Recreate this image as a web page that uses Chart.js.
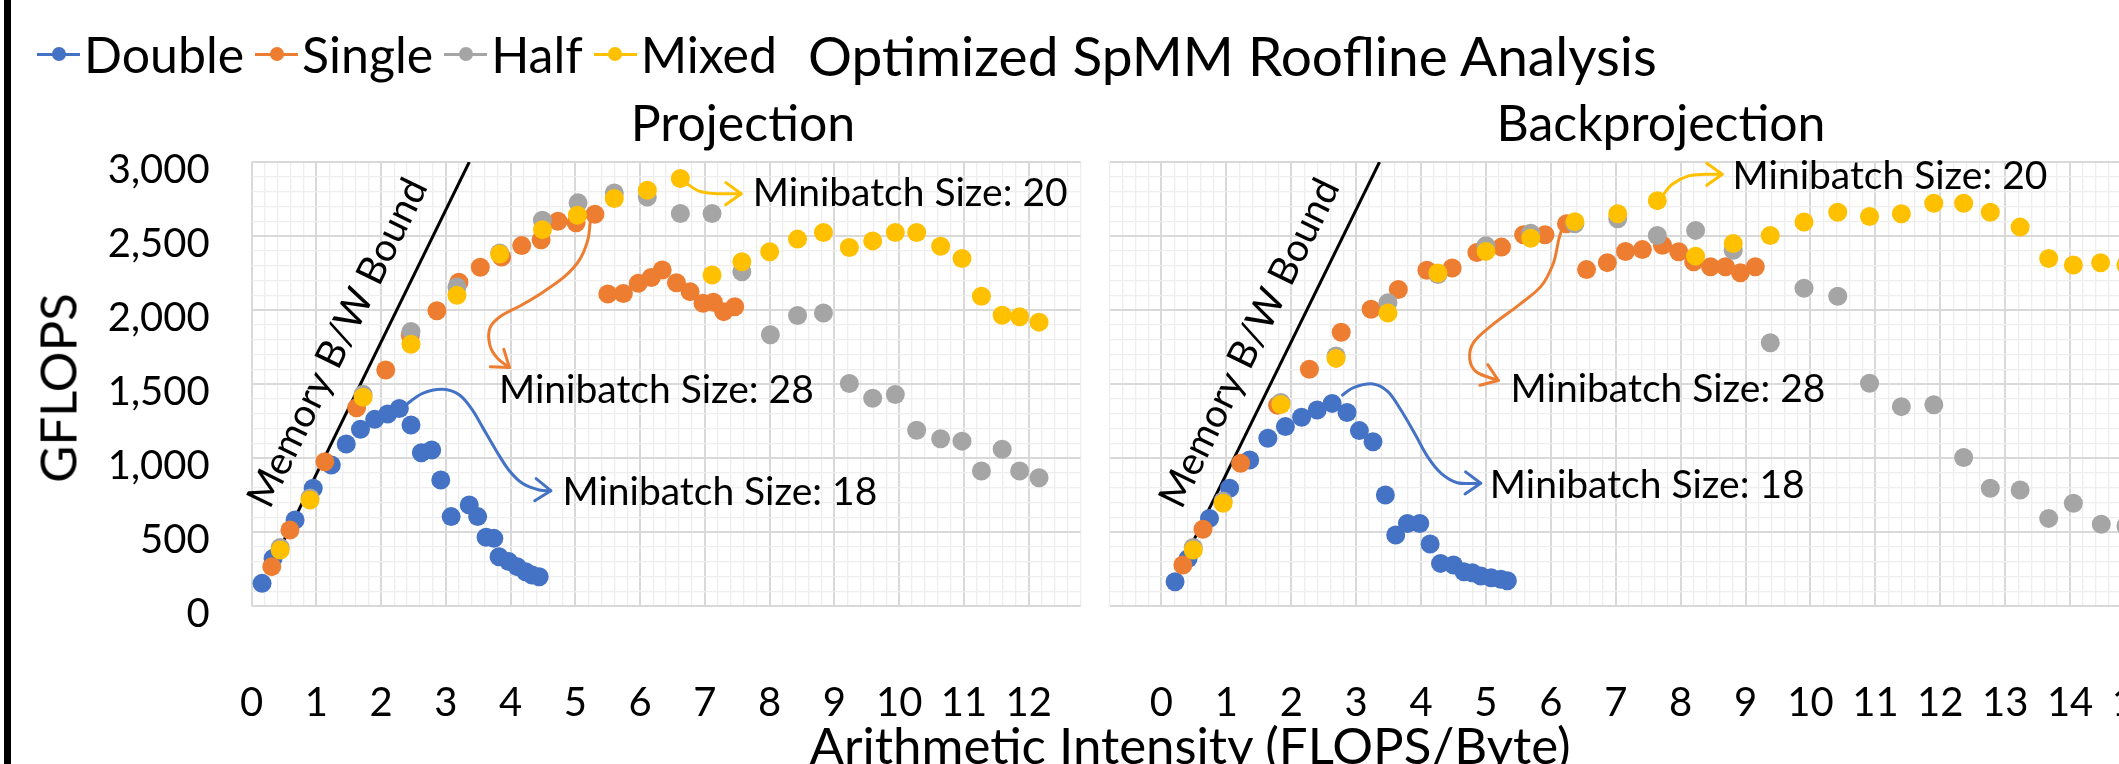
<!DOCTYPE html>
<html>
<head>
<meta charset="utf-8">
<script src="https://cdn.jsdelivr.net/npm/chart.js@4/dist/chart.umd.min.js"></script>
<style>
html,body{margin:0;padding:0;background:#fff;overflow:hidden;}
#wrap{position:relative;width:2119px;height:764px;overflow:hidden;background:#fff;font-family:Lato,"Open Sans",sans-serif;color:#000;}
canvas{position:absolute;top:0;}
#c1{left:0;}
#c2{left:1100px;}
#bar{position:absolute;left:4px;top:0;width:7px;height:764px;background:#000;}
.txt{position:absolute;white-space:nowrap;line-height:1;transform:translate(-50%,-50%);}
#legend{position:absolute;left:37px;top:29px;display:flex;align-items:center;font-size:50px;line-height:1;white-space:nowrap;}
#legend .item{display:flex;align-items:center;margin-right:11px;}
#legend .mk{display:inline-block;width:43px;height:14px;position:relative;margin-right:4px;}
#legend .mk::before{content:"";position:absolute;left:0;right:0;top:5.5px;height:3px;background:var(--c);}
#legend .mk::after{content:"";position:absolute;left:14.5px;top:0;width:14px;height:14px;border-radius:50%;background:var(--c);}
#ttl{position:absolute;left:808px;top:28px;font-size:55px;line-height:1;white-space:nowrap;}
#sub1{left:743px;top:122px;font-size:50px;}
#sub2{left:1661px;top:122px;font-size:50px;}
#ytitle{left:57px;top:388px;font-size:51px;transform:translate(-50%,-50%) rotate(-90deg);}
#xtitle{left:1190px;top:744px;font-size:51px;}
</style>
</head>
<body>
<div id="wrap">
  <canvas id="c1" width="1100" height="764"></canvas>
  <canvas id="c2" width="1088" height="764"></canvas>
  <div id="bar"></div>
  <div id="legend"></div>
  <div id="ttl"></div>
  <div class="txt" id="sub1">Projection</div>
  <div class="txt" id="sub2">Backprojection</div>
  <div class="txt" id="ytitle">GFLOPS</div>
  <div class="txt" id="xtitle">Arithmetic Intensity (FLOPS/Byte)</div>
</div>
<script>
// ---------------- DATA ----------------
const seriesNames = ['Double', 'Single', 'Half', 'Mixed'];
const chartTitle = 'Optimized SpMM Roofline Analysis';

// Projection panel
const projDoubleX = [0.16,0.33,0.67,0.95,1.23,1.46,1.68,1.90,2.10,2.28,2.46,2.62,2.78,2.92,3.08,3.36,3.49,3.62,3.74,3.82,3.97,4.10,4.23,4.33,4.44];
const projDoubleY = [153,322,581,795,953,1094,1194,1261,1297,1335,1223,1036,1054,851,604,682,604,464,457,333,300,266,232,209,198];
const projSingleX = [0.31,0.59,1.13,1.62,2.07,2.45,2.86,3.20,3.53,3.86,4.17,4.47,4.73,5.01,5.30,5.50,5.74,5.97,6.17,6.34,6.56,6.77,6.97,7.13,7.29,7.46];
const projSingleY = [266,513,975,1340,1595,1830,1995,2188,2289,2358,2435,2475,2600,2589,2647,2108,2112,2180,2220,2270,2184,2124,2045,2052,1989,2022];
const projHalfX = [0.44,0.90,1.72,2.46,3.17,3.83,4.49,5.04,5.60,6.11,6.62,7.11,7.57,8.01,8.43,8.83,9.23,9.59,9.94,10.27,10.64,10.97,11.27,11.59,11.86,12.16];
const projHalfY = [395,730,1430,1855,2155,2385,2607,2724,2791,2764,2652,2652,2258,1833,1963,1980,1503,1404,1429,1187,1130,1114,912,1059,912,867];
const projMixedX = [0.44,0.90,1.72,2.46,3.17,3.83,4.49,5.03,5.60,6.11,6.62,7.11,7.57,8.00,8.43,8.83,9.23,9.59,9.94,10.27,10.64,10.97,11.27,11.59,11.86,12.16];
const projMixedY = [378,716,1410,1768,2099,2379,2543,2640,2753,2809,2888,2236,2326,2393,2479,2524,2422,2467,2524,2524,2431,2348,2093,1965,1955,1918];

// Backprojection panel
const bpDoubleX = [0.21,0.41,0.74,1.05,1.36,1.64,1.91,2.16,2.40,2.63,2.86,3.05,3.26,3.45,3.61,3.79,3.98,4.14,4.30,4.50,4.66,4.79,4.92,5.08,5.23,5.33];
const bpDoubleY = [164,320,592,795,986,1133,1212,1275,1324,1369,1308,1185,1110,750,480,558,558,419,288,277,232,225,203,191,180,171];
const bpSingleX = [0.33,0.64,1.22,1.79,2.28,2.77,3.23,3.65,4.09,4.48,4.86,5.24,5.58,5.91,6.24,6.55,6.87,7.15,7.41,7.72,7.97,8.20,8.46,8.69,8.92,9.15];
const bpSingleY = [277,518,964,1356,1600,1850,2005,2139,2268,2284,2389,2425,2508,2508,2582,2273,2320,2395,2408,2438,2393,2326,2292,2292,2252,2292];
const bpHalfX = [0.49,0.95,1.84,2.69,3.49,4.26,5.00,5.69,6.37,7.03,7.64,8.23,8.81,9.38,9.90,10.42,10.91,11.40,11.90,12.36,12.77,13.23,13.67,14.05,14.48,14.86];
const bpHalfY = [395,710,1375,1690,2049,2240,2434,2519,2582,2616,2504,2538,2404,1779,2147,2093,1505,1347,1360,1004,795,784,592,694,552,541];
const bpMixedX = [0.49,0.95,1.84,2.69,3.49,4.26,5.00,5.69,6.37,7.03,7.64,8.23,8.81,9.38,9.90,10.42,10.91,11.40,11.90,12.36,12.77,13.23,13.67,14.05,14.47,14.86];
const bpMixedY = [378,694,1362,1673,1980,2250,2396,2485,2597,2650,2739,2364,2449,2504,2594,2661,2632,2650,2721,2721,2661,2560,2348,2304,2319,2304];

// Memory bandwidth roof (same in both panels)
const boundX = [0.38, 3.36];
const boundY = [339, 3000];

// Tick labels
const projXTicks = [0,1,2,3,4,5,6,7,8,9,10,11,12];
const bpXTicks = [0,1,2,3,4,5,6,7,8,9,10,11,12,13,14,15];
const yTicks = [0,500,1000,1500,2000,2500,3000];

// Annotation texts
const boundLabel = 'Memory B/W Bound';
const mbText20 = 'Minibatch Size: 20';
const mbText28 = 'Minibatch Size: 28';
const mbText18 = 'Minibatch Size: 18';

// ---------------- STYLE ----------------
const seriesColors = ['#4472C4', '#ED7D31', '#A5A5A5', '#FFC000'];
const FONT = 'Lato';
const TICK_SIZE = 40;
const ANN_SIZE = 39;

// annotation geometry, in data units of each panel
const projAnn = {
  texts: [
    {x: 7.74, y: 2785, t: mbText20},
    {x: 3.82, y: 1459, t: mbText28},
    {x: 4.80, y: 765, t: mbText18}
  ],
  arrows: [
    {c: 3, pts: [[6.71,2858],[6.90,2805],[7.14,2787],[7.56,2785]]},
    {c: 1, pts: [[5.23,2607],[5.19,2472],[5.06,2337],[4.83,2225],[4.51,2124],[4.17,2034],[3.85,1960],[3.68,1880],[3.68,1760],[3.80,1672],[3.98,1612]]},
    {c: 0, pts: [[2.41,1369],[2.64,1437],[2.95,1464],[3.21,1426],[3.41,1324],[3.56,1212],[3.77,1054],[3.97,919],[4.18,829],[4.44,784],[4.62,779]]}
  ],
  boundText: {x: 1.33, y: 1778}
};
const bpAnn = {
  texts: [
    {x: 8.80, y: 2900, t: mbText20},
    {x: 5.38, y: 1462, t: mbText28},
    {x: 5.06, y: 818, t: mbText18}
  ],
  arrows: [
    {c: 3, pts: [[7.74,2783],[7.87,2850],[8.12,2906],[8.38,2917],[8.64,2917]]},
    {c: 1, pts: [[6.18,2560],[6.12,2474],[6.04,2318],[5.85,2161],[5.52,2038],[5.08,1893],[4.81,1781],[4.75,1669],[4.86,1579],[5.19,1524]]},
    {c: 0, pts: [[2.79,1425],[2.97,1477],[3.26,1500],[3.49,1448],[3.69,1324],[3.90,1167],[4.10,1009],[4.31,896],[4.56,833],[4.92,829]]}
  ],
  boundText: {x: 1.36, y: 1776}
};

// ---------------- LEGEND (HTML) ----------------
const lg = document.getElementById('legend');
seriesNames.forEach((n, i) => {
  const it = document.createElement('span');
  it.className = 'item';
  const mk = document.createElement('span');
  mk.className = 'mk';
  mk.style.setProperty('--c', seriesColors[i]);
  it.appendChild(mk);
  it.appendChild(document.createTextNode(n));
  lg.appendChild(it);
});
document.getElementById('ttl').textContent = chartTitle;

// ---------------- HELPERS ----------------
const toPts = (xs, ys) => xs.map((x, i) => ({x: x, y: ys[i]}));
const isInt = v => Math.abs(v - Math.round(v)) < 1e-6;

function makeDatasets(series) {
  const ds = series.map((s, i) => ({
    label: seriesNames[i],
    data: toPts(s[0], s[1]),
    backgroundColor: seriesColors[i],
    borderColor: seriesColors[i],
    pointRadius: 9.5,
    pointHoverRadius: 9.5,
    pointBorderWidth: 0,
    showLine: false,
    order: 4 - i
  }));
  ds.push({
    label: boundLabel,
    data: toPts(boundX, boundY),
    showLine: true,
    borderColor: '#000',
    backgroundColor: '#000',
    borderWidth: 3,
    pointRadius: 0,
    order: 10
  });
  return ds;
}

const annotPlugin = {
  id: 'annot',
  afterDatasetsDraw(chart, args, opts) {
    const a = opts.ann;
    if (!a) return;
    const ctx = chart.ctx;
    const xs = chart.scales.x, ys = chart.scales.y;
    const P = p => [xs.getPixelForValue(p[0]), ys.getPixelForValue(p[1])];
    ctx.save();
    a.arrows.forEach(ar => {
      const pts = ar.pts.map(P);
      ctx.strokeStyle = seriesColors[ar.c];
      ctx.lineWidth = 3;
      ctx.lineCap = 'round';
      ctx.lineJoin = 'round';
      ctx.beginPath();
      ctx.moveTo(pts[0][0], pts[0][1]);
      for (let i = 0; i < pts.length - 1; i++) {
        const p0 = pts[Math.max(i - 1, 0)], p1 = pts[i], p2 = pts[i + 1], p3 = pts[Math.min(i + 2, pts.length - 1)];
        const c1 = [p1[0] + (p2[0] - p0[0]) / 6, p1[1] + (p2[1] - p0[1]) / 6];
        const c2 = [p2[0] - (p3[0] - p1[0]) / 6, p2[1] - (p3[1] - p1[1]) / 6];
        ctx.bezierCurveTo(c1[0], c1[1], c2[0], c2[1], p2[0], p2[1]);
      }
      ctx.stroke();
      const tip = pts[pts.length - 1], prev = pts[pts.length - 2];
      const ang = Math.atan2(tip[1] - prev[1], tip[0] - prev[0]);
      const L = 19, sp = 0.62;
      ctx.beginPath();
      ctx.moveTo(tip[0] - L * Math.cos(ang - sp), tip[1] - L * Math.sin(ang - sp));
      ctx.lineTo(tip[0], tip[1]);
      ctx.lineTo(tip[0] - L * Math.cos(ang + sp), tip[1] - L * Math.sin(ang + sp));
      ctx.stroke();
    });
    ctx.fillStyle = '#000';
    ctx.font = ANN_SIZE + 'px ' + FONT;
    ctx.textAlign = 'left';
    ctx.textBaseline = 'middle';
    a.texts.forEach(t => {
      const p = P([t.x, t.y]);
      ctx.fillText(t.t, p[0], p[1]);
    });
    const b0 = P([boundX[0], boundY[0]]), b1 = P([boundX[1], boundY[1]]);
    const rot = Math.atan2(b1[1] - b0[1], b1[0] - b0[0]);
    const c = P([a.boundText.x, a.boundText.y]);
    ctx.translate(c[0], c[1]);
    ctx.rotate(rot);
    ctx.textAlign = 'center';
    ctx.fillText(boundLabel, 0, 0);
    ctx.restore();
  }
};

function makeChart(id, series, xmin, xmax, xTicks, showY, pad, yWidth, ann) {
  return new Chart(document.getElementById(id), {
    type: 'scatter',
    data: {datasets: makeDatasets(series)},
    plugins: [annotPlugin],
    options: {
      responsive: false,
      animation: false,
      devicePixelRatio: 1,
      layout: {padding: pad},
      plugins: {legend: {display: false}, tooltip: {enabled: false}, title: {display: false}, annot: {ann: ann}},
      scales: {
        x: {
          type: 'linear', min: xmin, max: xmax,
          afterFit: s => { s.height = 158; s.paddingLeft = 0; s.paddingRight = 0; },
          ticks: {
            stepSize: 0.2, autoSkip: false, maxRotation: 0, minRotation: 0,
            callback: v => (isInt(v) && xTicks.includes(Math.round(v))) ? String(Math.round(v)) : '',
            font: {family: FONT, size: TICK_SIZE}, color: '#000', padding: 73
          },
          grid: {
            drawTicks: false,
            color: c => (c.tick && isInt(c.tick.value)) ? '#d9d9d9' : '#eeeeee',
            lineWidth: c => (c.tick && isInt(c.tick.value)) ? 2 : 1.3
          },
          border: {display: false}
        },
        y: {
          type: 'linear', min: 0, max: 3000,
          afterFit: s => { s.width = yWidth; s.paddingTop = 0; s.paddingBottom = 0; },
          ticks: {
            display: showY,
            stepSize: 100, autoSkip: false,
            callback: v => yTicks.includes(v) ? v.toLocaleString('en-US') : '',
            font: {family: FONT, size: TICK_SIZE}, color: '#000', padding: 42, labelOffset: 8
          },
          grid: {
            drawTicks: false,
            color: c => (c.tick && c.tick.value % 500 === 0) ? '#d9d9d9' : '#eeeeee',
            lineWidth: c => (c.tick && c.tick.value % 500 === 0) ? 2 : 1.3
          },
          border: {display: false}
        }
      }
    }
  });
}

function init() {
  makeChart('c1',
    [[projDoubleX, projDoubleY], [projSingleX, projSingleY], [projHalfX, projHalfY], [projMixedX, projMixedY]],
    0, 12.8, projXTicks, true, {left: 0, right: 19.5, top: 162, bottom: 0}, 251.7, projAnn);
  makeChart('c2',
    [[bpDoubleX, bpDoubleY], [bpSingleX, bpSingleY], [bpHalfX, bpHalfY], [bpMixedX, bpMixedY]],
    -0.8, 15.2, bpXTicks, false, {left: 8, right: 40, top: 162, bottom: 0}, 0, bpAnn);
}
if (document.fonts && document.fonts.load) {
  Promise.all([document.fonts.load('40px Lato')]).then(init, init);
} else { init(); }
</script>
</body>
</html>
